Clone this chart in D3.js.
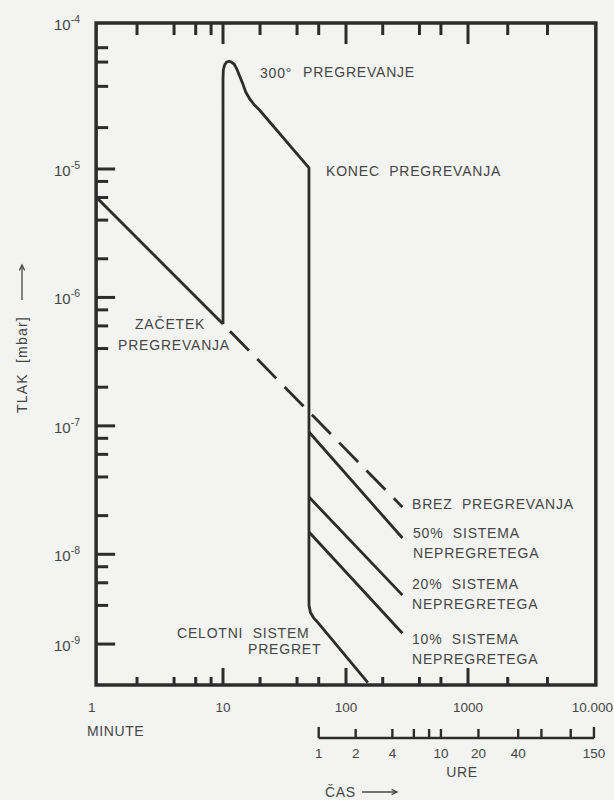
<!DOCTYPE html>
<html><head><meta charset="utf-8">
<script src="https://cdn.jsdelivr.net/npm/d3@7"></script>
<style>
html,body{margin:0;padding:0;background:#f3f3f1;}
svg{display:block;}
text{font-family:"Liberation Sans",Arial,Helvetica,sans-serif;fill:#464646;white-space:pre;}
</style></head><body>
<svg id="chart" width="614" height="800"></svg>
<script>
// ---------- data ----------
// time in minutes, pressure in mbar
const xBreaks = [1, 10, 100, 1000, 10000];
const xFrame = [0.93, 9300];
const yFrame = [1.37e-4, 9.6e-10];
const xMajorTicks = [10, 100, 1000];
const xMinorTicks = [2, 4, 6, 8, 20, 40, 60, 200, 400, 600, 2000, 4000];
const xLabelValues = [1, 10, 100, 1000, 10000];
const xLabelTexts = ["1", "10", "100", "1000", "10.000"];
const hourTicks = [1, 2, 4, 6, 8, 10, 20, 40, 60, 100, 150];
const hourLabels = [1, 2, 4, 10, 20, 40, 150];
const yMajorTicks = [1e-5, 1e-6, 1e-7, 1e-8, 2e-9];
const yMinorTicks = [8.8e-5, 6.8e-5, 4.4e-5, 2.1e-5, 8e-6, 6e-6, 4e-6, 2e-6,
  8e-7, 6e-7, 4e-7, 2e-7, 8e-8, 6e-8, 4e-8, 2e-8, 8e-9, 6e-9, 4e-9];
const yLabelValues = [1.37e-4, 1e-5, 1e-6, 1e-7, 1e-8, 2e-9];
const yLabelExponents = ["-4", "-5", "-6", "-7", "-8", "-9"];

const beforeHeating = [[0.93, 6.05e-6], [10, 6.2e-7]];
const withoutHeating = [[10, 6.2e-7], [290, 2.33e-8]];
const heating = [[10, 6.2e-7], [10, 5.0e-5], [10.06, 5.9e-5], [10.3, 6.45e-5], [10.7, 6.8e-5],
  [11.2, 6.9e-5], [11.7, 6.8e-5], [12.3, 6.57e-5], [13.0, 5.96e-5], [13.7, 5.25e-5],
  [14.5, 4.6e-5], [15.3, 3.98e-5], [16.6, 3.48e-5], [18, 3.15e-5], [19.8, 2.88e-5],
  [50, 1.02e-5], [50, 4.0e-9], [51.5, 3.5e-9], [54.5, 3.2e-9], [58, 3.0e-9], [151, 1.0e-9]];
const unheated50 = [[50, 8.95e-8], [290, 1.34e-8]];
const unheated20 = [[50, 2.79e-8], [290, 4.81e-9]];
const unheated10 = [[50, 1.49e-8], [290, 2.43e-9]];

// ---------- drawing ----------
const ink = "#2c2c2c";
const svg = d3.select("#chart");
const x = d3.scaleLog().domain(xBreaks).range([100, 223, 346, 468, 600]);
const y = d3.scaleLog().domain(yFrame).range([23, 685]);
const L = x(xFrame[0]), R = x(xFrame[1]), T = y(yFrame[0]), B = y(yFrame[1]);

svg.append("clipPath").attr("id", "clip").append("rect")
  .attr("x", L).attr("y", T).attr("width", R - L).attr("height", B - T);

const line = d3.line().x(d => x(d[0])).y(d => y(d[1]));
const g = svg.append("g").attr("clip-path", "url(#clip)")
  .attr("fill", "none").attr("stroke", ink).attr("stroke-width", 2.8)
  .attr("stroke-linejoin", "round");
g.append("path").attr("d", line(beforeHeating));
g.append("path").attr("d", line(heating));
g.append("path").attr("d", line(withoutHeating))
  .attr("stroke-dasharray", "27,12").attr("stroke-dashoffset", 29);
[unheated50, unheated20, unheated10].forEach(s => g.append("path").attr("d", line(s)));

// frame
svg.append("rect").attr("x", L).attr("y", T).attr("width", R - L).attr("height", B - T)
  .attr("fill", "none").attr("stroke", ink).attr("stroke-width", 3.5);

const ticks = svg.append("g").attr("stroke", ink).attr("stroke-width", 3);
// top & bottom ticks (inward)
xMinorTicks.forEach(v => {
  ticks.append("line").attr("x1", x(v)).attr("x2", x(v)).attr("y1", T).attr("y2", T + 12);
  ticks.append("line").attr("x1", x(v)).attr("x2", x(v)).attr("y1", B).attr("y2", B - 8);
});
xMajorTicks.forEach(v => {
  ticks.append("line").attr("x1", x(v)).attr("x2", x(v)).attr("y1", T).attr("y2", T + 21);
  ticks.append("line").attr("x1", x(v)).attr("x2", x(v)).attr("y1", B).attr("y2", B - 17);
});
// left ticks (inward)
yMinorTicks.forEach(v => {
  ticks.append("line").attr("x1", L).attr("x2", L + 12).attr("y1", y(v)).attr("y2", y(v));
});
yMajorTicks.forEach(v => {
  ticks.append("line").attr("x1", L).attr("x2", L + 19).attr("y1", y(v)).attr("y2", y(v));
});

// y labels
yLabelValues.forEach((v, i) => {
  const t = svg.append("text").attr("x", 80).attr("y", y(v) + 7)
    .attr("text-anchor", "end").attr("font-size", 15);
  t.append("tspan").text("10");
  t.append("tspan").attr("dy", -7).attr("font-size", 10.5).text(yLabelExponents[i]);
});

// x labels
xLabelValues.forEach((v, i) => {
  const last = i === xLabelValues.length - 1, first = i === 0;
  svg.append("text")
    .attr("x", first ? x(v) - 12 : last ? x(v) + 13 : x(v))
    .attr("y", 712)
    .attr("text-anchor", first ? "start" : last ? "end" : "middle")
    .attr("font-size", 13.5)
    .text(xLabelTexts[i]);
});
svg.append("text").attr("x", 87).attr("y", 736).attr("font-size", 14)
  .attr("letter-spacing", 0.6).text("MINUTE");

// hours axis
const hy = 738;
const hg = svg.append("g").attr("stroke", ink).attr("stroke-width", 2.4);
hg.append("line").attr("x1", x(hourTicks[0] * 60)).attr("x2", x(hourTicks[hourTicks.length - 1] * 60))
  .attr("y1", hy).attr("y2", hy);
hourTicks.forEach((h, i) => {
  const end = i === 0 || i === hourTicks.length - 1;
  hg.append("line").attr("x1", x(h * 60)).attr("x2", x(h * 60))
    .attr("y1", hy).attr("y2", hy - (end ? 11 : 9));
});
hourLabels.forEach(h => {
  svg.append("text").attr("x", x(h * 60)).attr("y", 758).attr("text-anchor", "middle")
    .attr("font-size", 13.5).text(String(h));
});
svg.append("text").attr("x", 462).attr("y", 777).attr("text-anchor", "middle")
  .attr("font-size", 14).attr("letter-spacing", 0.6).text("URE");
svg.append("text").attr("x", 325).attr("y", 797).attr("font-size", 14)
  .attr("letter-spacing", 0.6).text("ČAS");

// arrows
function arrow(x1, y1, x2, y2) {
  const a = svg.append("g").attr("stroke", "#464646").attr("stroke-width", 1.3).attr("fill", "none");
  a.append("line").attr("x1", x1).attr("y1", y1).attr("x2", x2).attr("y2", y2);
  const ang = Math.atan2(y2 - y1, x2 - x1), s = 6;
  const p = (da) => [x2 - s * Math.cos(ang + da), y2 - s * Math.sin(ang + da)];
  const [a1, a2] = [p(0.45), p(-0.45)];
  a.append("path").attr("d", `M${a1[0]},${a1[1]}L${x2},${y2}L${a2[0]},${a2[1]}`);
}
arrow(362, 792, 397, 792);
arrow(22, 300, 22, 265);

// y axis title
svg.append("text").attr("transform", "translate(27,413) rotate(-90)")
  .attr("font-size", 14).attr("letter-spacing", 1.2).text("TLAK  [mbar]");

// annotations
const ann = svg.append("g").attr("font-size", 14).attr("letter-spacing", 0.8);
const put = (tx, ax, ay) => ann.append("text").attr("x", ax).attr("y", ay).text(tx);
put("300°", 260, 78);
put("PREGREVANJE", 303, 77);
put("KONEC  PREGREVANJA", 326, 176);
put("ZAČETEK", 135, 329);
put("PREGREVANJA", 118, 350);
put("BREZ  PREGREVANJA", 412, 509);
put("50%  SISTEMA", 413, 538);
put("NEPREGRETEGA", 413, 558);
put("20%  SISTEMA", 412, 589);
put("NEPREGRETEGA", 412, 609);
put("10%  SISTEMA", 412, 644);
put("NEPREGRETEGA", 412, 664);
put("CELOTNI  SISTEM", 177, 638);
put("PREGRET", 248, 654);
</script>
</body></html>
